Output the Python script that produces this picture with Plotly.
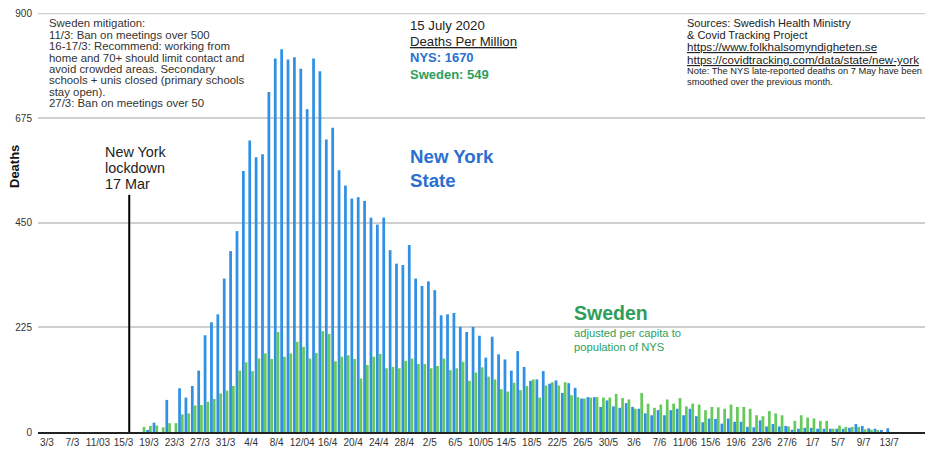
import plotly.graph_objects as go

# ---------------- data ----------------
ny_deaths = [0]*16 + [3, 20, 0, 69, 0, 94, 74, 99, 132, 208, 236, 253, 330, 389, 432, 561, 627,
    591, 597, 731, 803, 823, 801, 806, 781, 694, 803, 776, 629, 654, 563, 530, 502, 505,
    497, 461, 446, 461, 391, 362, 359, 402, 330, 314, 324, 305, 251, 253, 256, 226, 215,
    226, 207, 160, 205, 167, 156, 132, 174, 140, 110, 113, 131, 104, 111, 84, 105, 95,
    72, 75, 75, 54, 68, 55, 52, 62, 54, 50, 40, 36, 47, 36, 47, 50, 36, 50, 34, 21, 29,
    28, 18, 29, 22, 22, 11, 10, 25, 12, 17, 12, 13, 5, 7, 9, 9, 7, 7, 7, 7, 7, 9, 17, 13,
    8, 7, 3, 8, 0, 0]
sweden_adj = [0]*15 + [11, 13, 14, 10, 19, 19, 38, 40, 57, 58, 65, 71, 83, 89, 99, 132, 150,
    131, 158, 169, 157, 215, 162, 169, 194, 183, 158, 170, 217, 211, 152, 162, 165, 157,
    115, 144, 162, 168, 137, 140, 137, 153, 158, 146, 146, 137, 142, 158, 133, 137, 151,
    110, 128, 139, 119, 113, 92, 87, 106, 90, 99, 113, 74, 100, 107, 100, 107, 79, 75,
    72, 74, 75, 74, 74, 82, 73, 70, 50, 84, 61, 52, 59, 70, 61, 73, 55, 61, 59, 47, 54,
    53, 50, 59, 54, 54, 50, 36, 34, 45, 40, 36, 12, 24, 36, 31, 29, 24, 24, 7, 14, 11,
    11, 11, 6, 5, 3, 0, 0, 0, 0]
n = min(len(ny_deaths), len(sweden_adj))
days = list(range(n))  # day 0 = 3 March 2020
tick_days = list(range(0, 133, 4))
tick_labels = ["3/3", "7/3", "11/03", "15/3", "19/3", "23/3", "27/3", "31/3", "4/4", "8/4",
               "12/04", "16/4", "20/4", "24/4", "28/4", "2/5", "6/5", "10/05", "14/5", "18/5",
               "22/5", "26/5", "30/5", "3/6", "7/6", "11/06", "15/6", "19/6", "23/6", "27/6",
               "1/7", "5/7", "9/7", "13/7"]
y_ticks = [0, 225, 450, 675, 900]
y_max = 901
lockdown_day = 12.9
lockdown_top = 510

BLUE = "#2f90e4"
GREEN = "#66c95c"
BLUE_TXT = "#2b6fd1"
GREEN_TXT = "#2e9e5b"
GRID = "#cfcfcf"
FONT = "Liberation Sans, Arial, sans-serif"

fig = go.Figure()
fig.add_trace(go.Bar(x=days, y=ny_deaths[:n], marker=dict(color=BLUE, line=dict(width=0)), name="NYS"))
fig.add_trace(go.Bar(x=days, y=sweden_adj[:n], marker=dict(color=GREEN, line=dict(width=0)), name="Sweden"))

OFF = 8  # page body margin
W, H = 925, 442
ML, MR, MT, MB = 30, 3, 5, 18
PW, PH = W - ML - MR, H - MT - MB

def px(xp):  # window pixel -> paper
    return (xp - OFF - ML) / PW

def py(yp):
    return (MT + PH - (yp - OFF)) / PH

anns = []

def add_lines(lines, x, y0, step, size, color, bold=False):
    for i, t in enumerate(lines):
        txt = f"<b>{t}</b>" if bold else t
        anns.append(dict(x=px(x), y=py(y0 + i*step), xref="paper", yref="paper", text=txt,
                         showarrow=False, xanchor="left", yanchor="middle",
                         font=dict(family=FONT, size=size, color=color)))

U = "<span style='text-decoration:underline'>{}</span>"
add_lines(["Sweden mitigation:", "11/3: Ban on meetings over 500",
           "16-17/3: Recommend: working from", "home and 70+ should limit contact and",
           "avoid crowded areas. Secondary", "schools + unis closed (primary schools",
           "stay open).", "27/3: Ban on meetings over 50"], 47, 23.3, 11.4, 11.4, "#333")
add_lines(["New York", "lockdown", "17 Mar"], 103, 152, 15.8, 14.4, "#222")
add_lines(["15 July 2020"], 408, 25, 16, 13.2, "#222")
add_lines([U.format("Deaths Per Million")], 408, 41, 16, 13.2, "#222")
add_lines(["NYS: 1670"], 408, 57.5, 16, 13, BLUE_TXT, bold=True)
add_lines(["Sweden: 549"], 408, 74, 16, 13, GREEN_TXT, bold=True)
add_lines(["New York", "State"], 408, 156, 24.5, 18.7, BLUE_TXT, bold=True)
add_lines(["Sweden"], 572, 312.5, 20, 19.5, GREEN_TXT, bold=True)
add_lines(["adjusted per capita to", "population of NYS"], 572, 333, 13.6, 11.2, GREEN_TXT)
add_lines(["Sources: Swedish Health Ministry", "& Covid Tracking Project"], 685, 23.3, 11.4, 11.0, "#222")
add_lines([U.format("https://www.folkhalsomyndigheten.se"),
           U.format("https://covidtracking.com/data/state/new-york")],
          685, 46.5, 13, 11.6, "#222")
add_lines(["Note: The NYS late-reported deaths on 7 May have been", "smoothed over the previous month."],
          685, 71.5, 11, 9.3, "#222")
anns.append(dict(x=px(14), y=py(167), xref="paper", yref="paper", text="<b>Deaths</b>", textangle=-90,
                 showarrow=False, font=dict(family=FONT, size=13, color="#111"),
                 xanchor="center", yanchor="middle"))

# top gridline (edge of plot area)
fig.add_shape(type="line", x0=0, x1=1, xref="paper", y0=y_ticks[-1], y1=y_ticks[-1], yref="y",
              line=dict(color=GRID, width=1.5), layer="below")
fig.add_shape(type="line", x0=lockdown_day, x1=lockdown_day, y0=0, y1=lockdown_top, xref="x", yref="y",
              line=dict(color="black", width=2))

fig.update_layout(
    width=W, height=H, margin=dict(l=ML, r=MR, t=MT, b=MB),
    paper_bgcolor="white", plot_bgcolor="white",
    barmode="group", bargap=0.14, bargroupgap=0.0,
    showlegend=False, annotations=anns,
    font=dict(family=FONT, color="#333"),
    xaxis=dict(range=[-1.4, 138.4], tickmode="array", tickvals=tick_days, ticktext=tick_labels,
               showgrid=False, zeroline=False, showline=True, linecolor="#222", linewidth=1.5,
               ticks="", tickfont=dict(size=10, color="#333"), automargin=False),
    yaxis=dict(range=[0, y_max], tickmode="array", tickvals=y_ticks, ticktext=[str(v) for v in y_ticks],
               showgrid=True, gridcolor=GRID, gridwidth=1.5, zeroline=False, showline=False,
               ticks="", tickfont=dict(size=10, color="#333"), ticklabelstandoff=5, automargin=False,
               ticklabeloverflow="allow"),
)
fig.write_html("out.html")
